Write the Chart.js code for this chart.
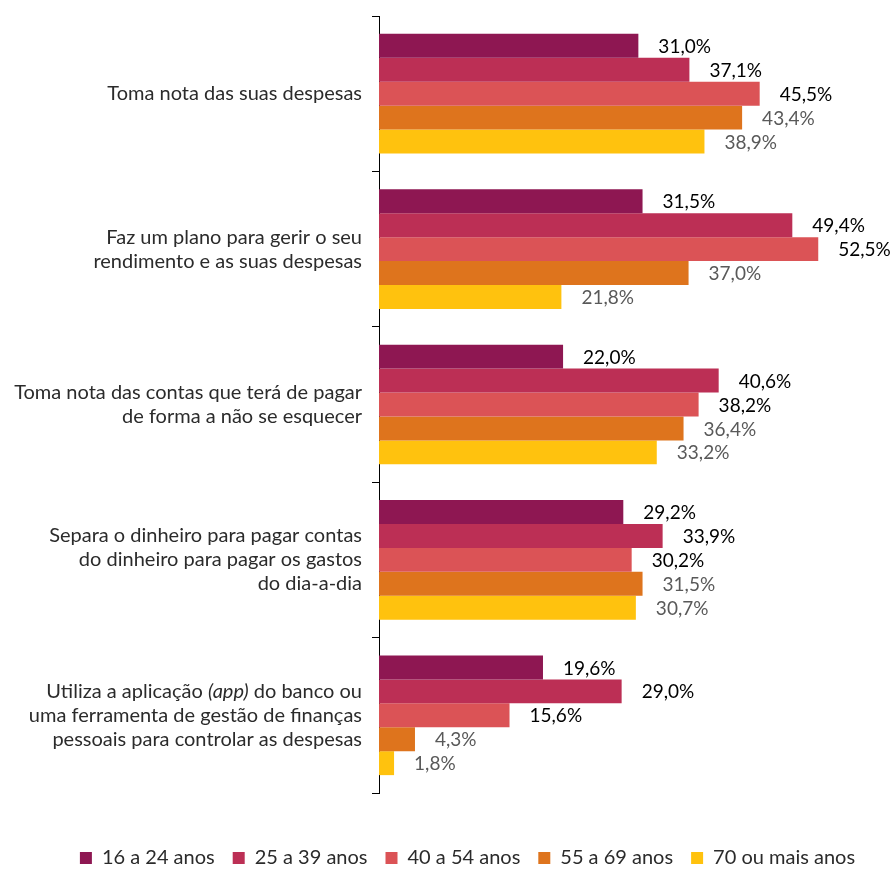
<!DOCTYPE html>
<html>
<head>
<meta charset="utf-8">
<script src="https://cdn.jsdelivr.net/npm/chart.js@4.4.0/dist/chart.umd.min.js"></script>
<style>
html,body{margin:0;padding:0;background:#fff;}
#wrap{width:893px;height:869px;position:relative;}
</style>
</head>
<body>
<div id="wrap"><canvas id="c" width="893" height="869"></canvas></div>
<script>
const categories = [
  ["Toma nota das suas despesas"],
  ["Faz um plano para gerir o seu", "rendimento e as suas despesas"],
  ["Toma nota das contas que terá de pagar", "de forma a não se esquecer"],
  ["Separa o dinheiro para pagar contas", "do dinheiro para pagar os gastos", "do dia-a-dia"],
  ["Utiliza a aplicação (app) do banco ou", "uma ferramenta de gestão de finanças", "pessoais para controlar as despesas"]
];
const seriesNames = ["16 a 24 anos", "25 a 39 anos", "40 a 54 anos", "55 a 69 anos", "70 ou mais anos"];
const age16to24 = [31.0, 31.5, 22.0, 29.2, 19.6];
const age25to39 = [37.1, 49.4, 40.6, 33.9, 29.0];
const age40to54 = [45.5, 52.5, 38.2, 30.2, 15.6];
const age55to69 = [43.4, 37.0, 36.4, 31.5, 4.3];
const age70plus = [38.9, 21.8, 33.2, 30.7, 1.8];
const colors = ["#8E1752", "#BC2F55", "#DB5356", "#DE741D", "#FFC20E"];
const labelColors = ["#000000", "#000000", "#000000", "#595959", "#595959"];

const FONT = "Lato";
const AXIS_X = 379;
const PLOT_BOTTOM = 793;
const LEGEND_SHIFT_X = 27;

const seriesData = [age16to24, age25to39, age40to54, age55to69, age70plus];
const datasets = seriesData.map((d, i) => ({
  label: seriesNames[i],
  data: d,
  backgroundColor: colors[i],
  borderWidth: 0,
  categoryPercentage: 0.77,
  barPercentage: 1.0
}));

const valueLabels = {
  id: 'valueLabels',
  afterDatasetsDraw(chart) {
    const ctx = chart.ctx;
    ctx.save();
    ctx.font = "19px " + FONT;
    ctx.textBaseline = 'middle';
    ctx.textAlign = 'left';
    chart.data.datasets.forEach((ds, i) => {
      const meta = chart.getDatasetMeta(i);
      meta.data.forEach((bar, j) => {
        const txt = ds.data[j].toFixed(1).replace('.', ',') + '%';
        ctx.fillStyle = labelColors[i];
        ctx.fillText(txt, bar.x + 20, bar.y + 1);
      });
    });
    ctx.restore();
  }
};

const catLabels = {
  id: 'catLabels',
  afterDraw(chart) {
    const ctx = chart.ctx;
    const y = chart.scales.y;
    ctx.save();
    ctx.textBaseline = 'middle';
    ctx.fillStyle = '#2b2b2b';
    const rightX = 362;
    const lh = 24;
    const normal = "20px " + FONT, ital = "italic 20px " + FONT;
    categories.forEach((lines, i) => {
      const cy = y.getPixelForValue(i);
      const startY = cy - (lines.length - 1) * lh / 2;
      lines.forEach((line, k) => {
        const ly = startY + k * lh;
        if (line.includes("(app)")) {
          const parts = line.split("(app)");
          ctx.font = normal;
          const w2 = ctx.measureText(parts[1]).width;
          const w0 = ctx.measureText(parts[0]).width;
          ctx.font = ital;
          const w1 = ctx.measureText("(app)").width;
          ctx.textAlign = 'left';
          let x = rightX - w0 - w1 - w2;
          ctx.font = normal; ctx.fillText(parts[0], x, ly); x += w0;
          ctx.font = ital; ctx.fillText("(app)", x, ly); x += w1;
          ctx.font = normal; ctx.fillText(parts[1], x, ly);
        } else {
          ctx.font = normal;
          ctx.textAlign = 'right';
          ctx.fillText(line, rightX, ly);
        }
      });
    });
    ctx.restore();
  }
};

const legendFit = {
  id: 'legendFit',
  afterInit(chart) {
    const lg = chart.legend;
    if (!lg) return;
    const orig = lg.fit.bind(lg);
    lg.fit = function () {
      orig();
      this.height = chart.height - PLOT_BOTTOM;
    };
  },
  afterLayout(chart) {
    const lg = chart.legend;
    if (!lg) return;
    lg.left += LEGEND_SHIFT_X;
    lg.right += LEGEND_SHIFT_X;
  }
};

new Chart(document.getElementById('c'), {
  type: 'bar',
  data: { labels: categories.map(l => l.join(' ')), datasets },
  options: {
    indexAxis: 'y',
    responsive: false,
    animation: false,
    layout: { padding: { top: 16, right: 12, left: 0, bottom: 0 } },
    scales: {
      x: { display: false, min: 0, max: 60 },
      y: {
        ticks: { display: false },
        grid: { display: true, drawOnChartArea: false, drawTicks: true, tickLength: 7, color: '#000', offset: true },
        border: { display: true, color: '#000', width: 1 },
        afterFit(scale) { scale.width = AXIS_X; }
      }
    },
    plugins: {
      legend: {
        position: 'bottom',
        title: { display: true, text: '', font: { size: 10, lineHeight: 1 }, padding: { top: 27, bottom: 0 } },
        labels: {
          boxWidth: 12, boxHeight: 12, padding: 18,
          color: '#2b2b2b',
          font: { family: FONT, size: 20 }
        }
      },
      tooltip: { enabled: false }
    }
  },
  plugins: [valueLabels, catLabels, legendFit]
});
</script>
</body>
</html>
